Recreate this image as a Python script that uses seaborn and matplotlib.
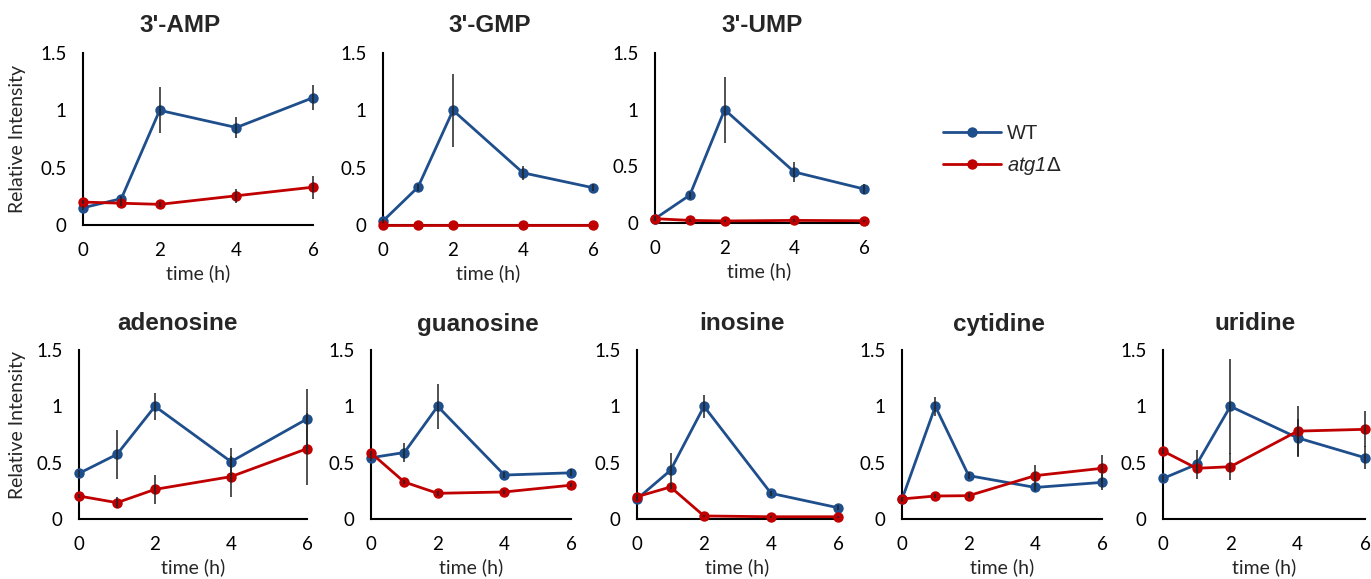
import numpy as np
import pandas as pd
import matplotlib
matplotlib.use("Agg")
import matplotlib.pyplot as plt
from matplotlib.lines import Line2D
import seaborn as sns

# ---------------- data ----------------
times = [0, 1, 2, 4, 6]
strains = ["WT", "atg1"]
compounds = ["3'-AMP", "3'-GMP", "3'-UMP",
             "adenosine", "guanosine", "inosine", "cytidine", "uridine"]

wt_mean = {
    "3'-AMP":    [0.15, 0.23, 1.00, 0.85, 1.11],
    "3'-GMP":    [0.035, 0.33, 1.00, 0.455, 0.325],
    "3'-UMP":    [0.038, 0.246, 1.00, 0.45, 0.30],
    "adenosine": [0.405, 0.574, 1.00, 0.509, 0.888],
    "guanosine": [0.544, 0.59, 1.00, 0.39, 0.41],
    "inosine":   [0.178, 0.432, 1.00, 0.228, 0.10],
    "cytidine":  [0.175, 1.00, 0.385, 0.28, 0.325],
    "uridine":   [0.36, 0.485, 1.00, 0.72, 0.544],
}
wt_err = {
    "3'-AMP":    [0.02, 0.02, 0.20, 0.09, 0.11],
    "3'-GMP":    [0.02, 0.03, 0.32, 0.06, 0.03],
    "3'-UMP":    [0.02, 0.03, 0.29, 0.09, 0.04],
    "adenosine": [0.03, 0.215, 0.12, 0.125, 0.27],
    "guanosine": [0.03, 0.085, 0.20, 0.03, 0.03],
    "inosine":   [0.02, 0.15, 0.105, 0.02, 0.02],
    "cytidine":  [0.02, 0.085, 0.03, 0.03, 0.07],
    "uridine":   [0.03, 0.13, 0.42, 0.17, 0.10],
}
atg_mean = {
    "3'-AMP":    [0.20, 0.19, 0.18, 0.255, 0.33],
    "3'-GMP":    [0.003, 0.003, 0.003, 0.003, 0.003],
    "3'-UMP":    [0.038, 0.023, 0.018, 0.023, 0.02],
    "adenosine": [0.204, 0.145, 0.263, 0.376, 0.624],
    "guanosine": [0.586, 0.328, 0.228, 0.24, 0.30],
    "inosine":   [0.198, 0.284, 0.027, 0.02, 0.02],
    "cytidine":  [0.178, 0.204, 0.207, 0.385, 0.45],
    "uridine":   [0.603, 0.45, 0.464, 0.78, 0.796],
}
atg_err = {
    "3'-AMP":    [0.02, 0.02, 0.02, 0.06, 0.10],
    "3'-GMP":    [0.0, 0.0, 0.0, 0.0, 0.0],
    "3'-UMP":    [0.01, 0.01, 0.01, 0.01, 0.01],
    "adenosine": [0.02, 0.05, 0.13, 0.18, 0.32],
    "guanosine": [0.02, 0.02, 0.02, 0.02, 0.02],
    "inosine":   [0.02, 0.02, 0.01, 0.01, 0.01],
    "cytidine":  [0.02, 0.02, 0.02, 0.09, 0.12],
    "uridine":   [0.03, 0.03, 0.12, 0.22, 0.16],
}
x_ticks = [0, 2, 4, 6]
y_ticks = [0, 0.5, 1.0, 1.5]
y_ticklabels = ["0", "0.5", "1", "1.5"]
legend_labels = ["WT", r"atg1$\Delta$"]

# ---------------- style ----------------
sns.set_theme(style="white")
plt.rcParams["font.family"] = ["Lato", "DejaVu Sans"]

palette = {"WT": "#1F4E8C", "atg1": "#C00000"}
err_color = "#222222"

W, H = 1371, 579
fig = plt.figure(figsize=(W / 100, H / 100), dpi=100)

# axes boxes in pixels: left, right, top(y=1.5), bottom(y=0)
boxes = {
    "3'-AMP":    (83, 313, 53, 225),
    "3'-GMP":    (383, 593, 53, 225),
    "3'-UMP":    (655, 864, 53, 223),
    "adenosine": (79, 307, 350, 519),
    "guanosine": (371, 571, 350, 519),
    "inosine":   (637, 838, 350, 519),
    "cytidine":  (902, 1102, 350, 519),
    "uridine":   (1163, 1365, 350, 519),
}
title_pos = {
    "3'-AMP": (180, 25), "3'-GMP": (490, 25), "3'-UMP": (762, 25),
    "adenosine": (177, 324), "guanosine": (478, 324), "inosine": (742, 324),
    "cytidine": (999, 324), "uridine": (1255, 324),
}

for comp in compounds:
    l, r, t, b = boxes[comp]
    ax = fig.add_axes([l / W, 1 - b / H, (r - l) / W, (b - t) / H])
    df = pd.DataFrame({
        "time": times * 2,
        "value": wt_mean[comp] + atg_mean[comp],
        "err": wt_err[comp] + atg_err[comp],
        "strain": ["WT"] * len(times) + ["atg1"] * len(times),
    })
    for s in strains:
        d = df[df.strain == s]
        ax.errorbar(d["time"], d["value"], yerr=d["err"], fmt="none",
                    ecolor=err_color, elinewidth=1.1, capsize=0,
                    clip_on=False, zorder=4)
    sns.lineplot(data=df, x="time", y="value", hue="strain",
                 hue_order=strains, palette=palette, marker="o",
                 markersize=7.5, markeredgewidth=0, linewidth=2.0,
                 legend=False, ax=ax, clip_on=False, zorder=3)
    ax.set_xlim(0, 6)
    ax.set_ylim(0, 1.5)
    ax.set_xticks(x_ticks)
    ax.set_yticks(y_ticks)
    ax.set_yticklabels(y_ticklabels)
    ax.tick_params(axis="y", direction="out", length=5, width=1.2,
                   labelsize=13.5, pad=7, colors="black")
    ax.tick_params(axis="x", direction="inout", length=8, width=1.2,
                   labelsize=13.5, pad=8, colors="black")
    for sp in ["top", "right"]:
        ax.spines[sp].set_visible(False)
    for sp in ["left", "bottom"]:
        ax.spines[sp].set_color("black")
        ax.spines[sp].set_linewidth(1.5)
    ax.set_xlabel("time (h)", fontsize=14, labelpad=4)
    ax.set_ylabel("")
    ax.patch.set_alpha(0)
    tx, ty = title_pos[comp]
    fig.text(tx / W, 1 - ty / H, comp, ha="center", va="center",
             fontsize=17.5, fontweight="bold", family="Liberation Sans")

fig.text(18 / W, 1 - 139 / H, "Relative Intensity", rotation=90,
         ha="center", va="center", fontsize=14)
fig.text(18 / W, 1 - 425 / H, "Relative Intensity", rotation=90,
         ha="center", va="center", fontsize=14)

handles = [Line2D([], [], color=palette[s], marker="o", markersize=7.5,
                  markeredgewidth=0, linewidth=2.0) for s in strains]
leg = fig.legend(handles, legend_labels, loc="upper left",
                 bbox_to_anchor=(925 / W, 1 - 106 / H), frameon=False,
                 handlelength=2.85, handletextpad=0.3, labelspacing=0.6,
                 prop={"family": "Liberation Sans", "size": 14.5})
leg.get_texts()[1].set_style("italic")

fig.savefig("out.png", dpi=100)
